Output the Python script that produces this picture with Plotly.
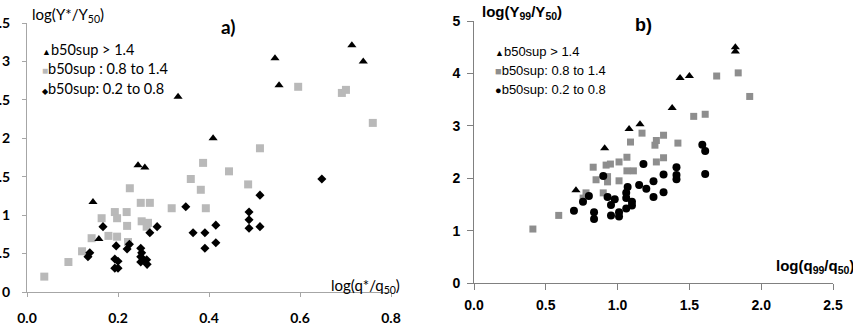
import plotly.graph_objects as go

W, H = 853, 326

# ---------- Panel a data ----------
a_tri_x = [0.145, 0.158, 0.244, 0.259, 0.332, 0.409, 0.545, 0.554, 0.714, 0.739]
a_tri_y = [1.17, 0.69, 1.65, 1.62, 2.54, 2.00, 3.04, 2.69, 3.21, 3.00]

a_sq_x = [0.038, 0.091, 0.121, 0.142, 0.164, 0.179, 0.193, 0.198, 0.198, 0.219, 0.220,
          0.226, 0.222, 0.250, 0.252, 0.270, 0.266, 0.263, 0.318, 0.360, 0.382, 0.387,
          0.393, 0.444, 0.486, 0.512, 0.596, 0.692, 0.701, 0.760]
a_sq_y = [0.20, 0.39, 0.53, 0.70, 0.96, 0.73, 1.04, 0.96, 0.72, 1.04, 0.86,
          1.35, 0.65, 1.16, 0.92, 1.16, 0.90, 0.85, 1.09, 1.47, 1.33, 1.68,
          1.09, 1.57, 1.40, 1.87, 2.67, 2.59, 2.63, 2.20]

a_dia_x = [0.134, 0.138, 0.167, 0.193, 0.193, 0.196, 0.200, 0.200, 0.220, 0.225,
           0.250, 0.250, 0.252, 0.250, 0.255, 0.263, 0.264, 0.270, 0.286, 0.349,
           0.365, 0.391, 0.391, 0.415, 0.415, 0.488, 0.488, 0.488, 0.512, 0.512, 0.648]
a_dia_y = [0.46, 0.51, 0.85, 0.43, 0.31, 0.60, 0.40, 0.31, 0.56, 0.62,
           0.57, 0.46, 0.51, 0.39, 0.42, 0.42, 0.36, 0.77, 0.85, 1.11,
           0.77, 0.77, 0.57, 0.87, 0.64, 1.04, 0.94, 0.83, 1.26, 0.85, 1.47]

# ---------- Panel b data ----------
b_tri_x = [0.71, 0.91, 1.08, 1.156, 1.38, 1.435, 1.50, 1.82, 1.82]
b_tri_y = [1.77, 2.57, 2.94, 3.03, 3.34, 3.91, 3.95, 4.50, 4.42]

b_sq_x = [0.41, 0.59, 0.76, 0.78, 0.83, 0.85, 0.90, 0.92, 0.95, 0.93, 0.93, 1.01, 1.01,
          1.065, 1.065, 1.11, 1.09, 1.17, 1.26, 1.27, 1.27, 1.32, 1.32, 1.42, 1.53,
          1.61, 1.69, 1.84, 1.92]
b_sq_y = [1.03, 1.29, 1.62, 1.72, 2.21, 1.97, 1.72, 2.25, 2.27, 2.03, 1.93, 2.31, 1.95,
          2.40, 2.14, 2.14, 2.69, 2.86, 2.63, 2.72, 2.31, 2.82, 2.39, 2.67, 3.18,
          3.22, 3.95, 4.01, 3.56]

b_cir_x = [0.696, 0.759, 0.80, 0.836, 0.836, 0.90, 0.93, 0.954, 0.954, 0.98, 1.01, 1.01,
           1.06, 1.06, 1.06, 1.07, 1.10, 1.10, 1.15, 1.18, 1.20, 1.25, 1.25, 1.32, 1.32,
           1.41, 1.41, 1.41, 1.59, 1.61, 1.61]
b_cir_y = [1.38, 1.55, 1.66, 1.35, 1.22, 2.04, 1.64, 1.49, 1.29, 1.60, 1.35, 1.27,
           1.42, 1.72, 1.62, 1.83, 1.55, 1.48, 1.87, 2.27, 1.80, 1.94, 1.64, 2.07, 1.73,
           2.21, 2.06, 1.98, 2.64, 2.52, 2.08]

a_xticks = [0.0, 0.2, 0.4, 0.6, 0.8]
a_xticklabels = ["0.0", "0.2", "0.4", "0.6", "0.8"]
a_yticks = [0, 0.5, 1, 1.5, 2, 2.5, 3, 3.5]
a_yticklabels = ["0", "0.5", "1", "1.5", "2", "2.5", "3", "3.5"]
b_xticks = [0.0, 0.5, 1.0, 1.5, 2.0, 2.5]
b_xticklabels = ["0.0", "0.5", "1.0", "1.5", "2.0", "2.5"]
b_yticks = [0, 1, 2, 3, 4, 5]
b_yticklabels = ["0", "1", "2", "3", "4", "5"]

legend_a = ["b50sup > 1.4", "b50sup : 0.8 to 1.4", "b50sup: 0.2 to 0.8"]
legend_b = ["b50sup > 1.4", "b50sup: 0.8 to 1.4", "b50sup: 0.2 to 0.8"]

GREY_A = "#b9b9b9"
GREY_B = "#8e8e8e"
FA = "Lato"
FB = "Liberation Sans, Arial"

fig = go.Figure()

def sc(x, y, sym, col, size, xa, ya):
    fig.add_trace(go.Scatter(x=x, y=y, mode="markers", xaxis=xa, yaxis=ya,
                             marker=dict(symbol=sym, color=col, size=size, line=dict(width=0)),
                             showlegend=False, cliponaxis=False))

sc(a_sq_x, a_sq_y, "square", GREY_A, 8, "x", "y")
sc(a_dia_x, a_dia_y, "diamond", "black", 7, "x", "y")
sc(a_tri_x, a_tri_y, "triangle-up", "black", 8, "x", "y")
sc(b_sq_x, b_sq_y, "square", GREY_B, 7, "x2", "y2")
sc(b_cir_x, b_cir_y, "circle", "black", 8, "x2", "y2")
sc(b_tri_x, b_tri_y, "triangle-up", "black", 8, "x2", "y2")

def px(x): return x / W
def py(y): return 1 - y / H

axA = dict(showgrid=False, zeroline=False, showline=True, linecolor="#a6a6a6", linewidth=1,
           ticks="outside", ticklen=4, tickcolor="#a6a6a6", automargin=False,
           tickfont=dict(family=FA, size=14, color="black", weight="bold"))
axB = dict(showgrid=False, zeroline=False, showline=True, linecolor="#808080", linewidth=1,
           ticks="outside", ticklen=6, tickcolor="#808080", automargin=False,
           tickfont=dict(family=FB, size=14, color="black", weight="bold"))

fig.update_layout(
    width=W, height=H, margin=dict(l=0, r=0, t=0, b=0, pad=0, autoexpand=False),
    paper_bgcolor="white", plot_bgcolor="white",
    xaxis=dict(axA, domain=[px(27), px(391)], range=[0, 0.8], tickvals=a_xticks,
               ticktext=a_xticklabels, anchor="y", ticklabelstandoff=9),
    yaxis=dict(axA, domain=[py(292), py(23)], range=[0, 3.5], tickvals=a_yticks,
               ticktext=a_yticklabels, anchor="x", ticklabelstandoff=9),
    xaxis2=dict(axB, domain=[px(474), px(833)], range=[0, 2.5], tickvals=b_xticks,
                ticktext=b_xticklabels, anchor="y2", ticklabelstandoff=3),
    yaxis2=dict(axB, domain=[py(283), py(21)], range=[0, 5], tickvals=b_yticks,
                ticktext=b_yticklabels, anchor="x2", ticklabelstandoff=4),
)

ann = []
def txt(x, y, t, fam, size, bold=False, xanchor="left"):
    ann.append(dict(x=px(x), y=py(y), xref="paper", yref="paper", text=t, showarrow=False,
                    xanchor=xanchor, yanchor="middle",
                    font=dict(family=fam, size=size, color="black",
                              weight="bold" if bold else "normal")))

txt(30, 15, "log(Y*/Y<sub>50</sub>)", FA, 15)
txt(402, 286, "log(q*/q<sub>50</sub>)", FA, 15, xanchor="right")
txt(219, 27, "a)", FA, 19, bold=True)
txt(480, 12, "log(Y<sub>99</sub>/Y<sub>50</sub>)", FB, 15, bold=True)
txt(856, 266, "log(q<sub>99</sub>/q<sub>50</sub>)", FB, 15, bold=True, xanchor="right")
txt(633, 25, "b)", FB, 18, bold=True)

syms_a = ["<span style='font-size:9px'>▲</span>",
          "<span style='font-size:10px;color:%s'>■</span>" % GREY_A,
          "<span style='font-size:8px'>◆</span>"]
syms_b = ["<span style='font-size:9px'>▲</span>",
          "<span style='font-size:11px;color:%s'>■</span>" % GREY_B,
          "<span style='font-size:11px'>●</span>"]
for i, (s, t) in enumerate(zip(syms_a, legend_a)):
    txt(40, 49 + 19.5 * i, s + t, FA, 14.5)
for i, (s, t) in enumerate(zip(syms_b, legend_b)):
    txt(493, 52 + 18.5 * i, s + t, FB, 13)

fig.update_layout(annotations=ann)
fig.write_html("out.html")
